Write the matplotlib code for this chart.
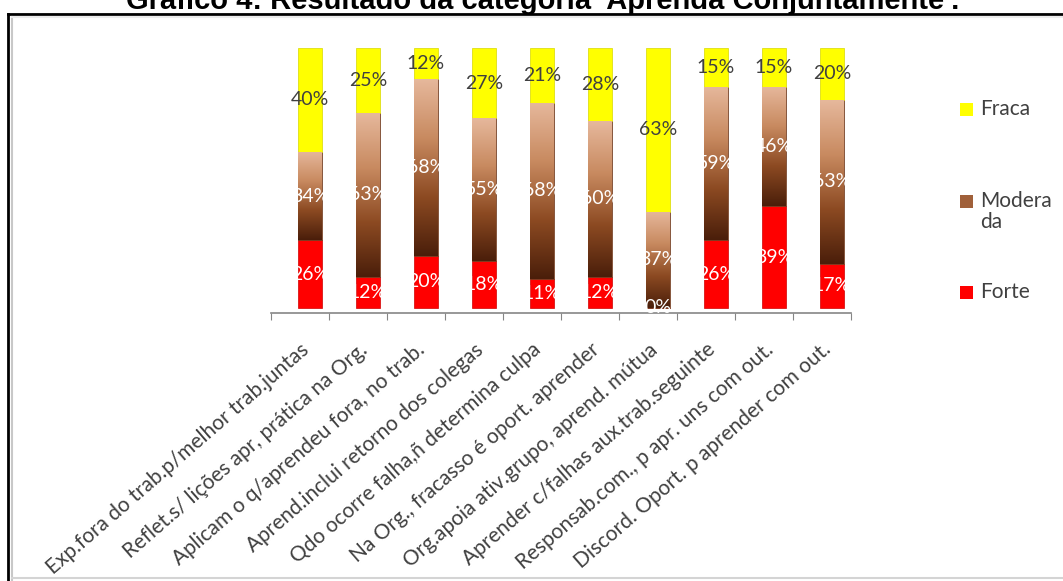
import numpy as np
import matplotlib
matplotlib.use('Agg')
import matplotlib.pyplot as plt
from matplotlib.colors import LinearSegmentedColormap
from matplotlib.lines import Line2D
from matplotlib.patches import Rectangle

# data (percent of answers)
categories = [
    'Exp.fora do trab.p/melhor trab.juntas',
    'Reflet.s/ lições apr, prática na Org.',
    'Aplicam o q/aprendeu fora, no trab.',
    'Aprend.inclui retorno dos colegas',
    'Qdo ocorre falha,ñ determina culpa',
    'Na Org., fracasso é oport. aprender',
    'Org.apoia ativ.grupo, aprend. mútua',
    'Aprender c/falhas aux.trab.seguinte',
    'Responsab.com., p apr. uns com out.',
    'Discord. Oport. p aprender com out.',
]
forte = [26, 12, 20, 18, 11, 12, 0, 26, 39, 17]
moderada = [34, 63, 68, 55, 68, 60, 37, 59, 46, 63]
fraca = [40, 25, 12, 27, 21, 28, 63, 15, 15, 20]
legend_labels = ['Fraca', 'Modera\nda', 'Forte']
title = "Gráfico 4: Resultado da categoria 'Aprenda Conjuntamente'."

W, H = 1063, 581
TXT = '#404040'
RED = '#ff0000'
YELLOW = '#ffff00'
BROWN = '#a0603a'
brown_cmap = LinearSegmentedColormap.from_list(
    'brown', ['#4a1e0a', '#8c4a22', '#c88a60', '#e6b89c'])


def px(x, y):
    # pixel position (from top-left) -> figure fraction
    return x / W, 1 - y / H


fig = plt.figure(figsize=(W / 100, H / 100), dpi=100)
ax = fig.add_axes([271 / W, 1 - 313 / H, 580 / W, 265 / H])

x = np.arange(len(categories))
xb = x + 0.17
bw = 0.41
bot2 = np.array(forte)
bot3 = bot2 + np.array(moderada)

b_forte = ax.bar(xb, forte, bw, color=RED, edgecolor='#d00000', linewidth=0.5, zorder=2)
b_mod = ax.bar(xb, moderada, bw, bottom=bot2, color=BROWN, edgecolor='#6a3418',
               linewidth=0.5, zorder=2)
b_fraca = ax.bar(xb, fraca, bw, bottom=bot3, color=YELLOW, edgecolor='#d8d800',
                 linewidth=0.5, zorder=2)

# vertical gradient inside every "Moderada" segment
grad = np.linspace(0, 1, 256).reshape(-1, 1)
for p in b_mod.patches:
    if p.get_height() <= 0:
        continue
    x0, y0 = p.get_x(), p.get_y()
    im = ax.imshow(grad, extent=[x0, x0 + p.get_width(), y0, y0 + p.get_height()],
                   origin='lower', aspect='auto', cmap=brown_cmap, zorder=2.5)
    im.set_clip_path(p)

ax.bar_label(b_fraca, labels=[f'{v}%' for v in fraca], label_type='center',
             color=TXT, fontsize=14, family='Lato', zorder=4)
ax.bar_label(b_mod, labels=[f'{v}%' for v in moderada], label_type='center',
             color='white', fontsize=14, family='Lato', zorder=4)
ax.bar_label(b_forte, labels=[f'{v}%' for v in forte], label_type='center',
             color='white', fontsize=14, family='Lato', zorder=4)

ax.set_xlim(-0.5, len(categories) - 0.5)
ax.set_ylim(-2, 100)
ax.set_yticks([])
for s in ['left', 'right', 'top']:
    ax.spines[s].set_visible(False)
ax.spines['bottom'].set_color('#868686')
ax.spines['bottom'].set_linewidth(1.2)
ax.set_xticks(np.arange(-0.5, len(categories), 1))
ax.tick_params(axis='x', which='major', length=5, color='#868686', labelbottom=False)
ax.set_xticks(x, minor=True)
ax.set_xticklabels(categories, minor=True, rotation=41, ha='right',
                   rotation_mode='anchor', fontsize=15, family='Lato', color=TXT)
ax.tick_params(axis='x', which='minor', length=0, pad=19)
ax.patch.set_visible(False)

# legend drawn like the Excel one (square + wrapped text)
legend_colors = [YELLOW, BROWN, RED]
legend_y = [110, 202, 293]
for lab, col, yy in zip(legend_labels, legend_colors, legend_y):
    fx, fy = px(960, yy + 6)
    fig.add_artist(Rectangle((fx, fy), 13 / W, 13 / H, transform=fig.transFigure,
                             facecolor=col, edgecolor='none'))
    tx, ty = px(980, yy - 11)
    fig.text(tx, ty, lab, ha='left', va='top', fontsize=15, family='Lato',
             color=TXT, linespacing=1.05)

# title, partly cut off at the top like in the scan
tx, ty = px(543, 9)
fig.text(tx, ty, title, ha='center', va='baseline', fontsize=21,
         fontweight='bold', family='Liberation Sans', color='black')

# chart frame
fig.add_artist(Line2D([8 / W, 8 / W], [1 - 14 / H, 0], transform=fig.transFigure,
                      color='black', linewidth=2))
fig.add_artist(Line2D([8 / W, 1], [1 - 14 / H, 1 - 14 / H], transform=fig.transFigure,
                      color='black', linewidth=2))
fig.add_artist(Line2D([12 / W, 12 / W], [1 - 17 / H, 0], transform=fig.transFigure,
                      color='#c8c8c8', linewidth=1.5))
fig.add_artist(Line2D([12 / W, 1], [1 - 17 / H, 1 - 17 / H], transform=fig.transFigure,
                      color='#ececec', linewidth=1.5))
fig.add_artist(Line2D([12 / W, 1], [1 - 578 / H, 1 - 578 / H], transform=fig.transFigure,
                      color='#d4d4d4', linewidth=1.5))

fig.savefig('out.png', dpi=100)
